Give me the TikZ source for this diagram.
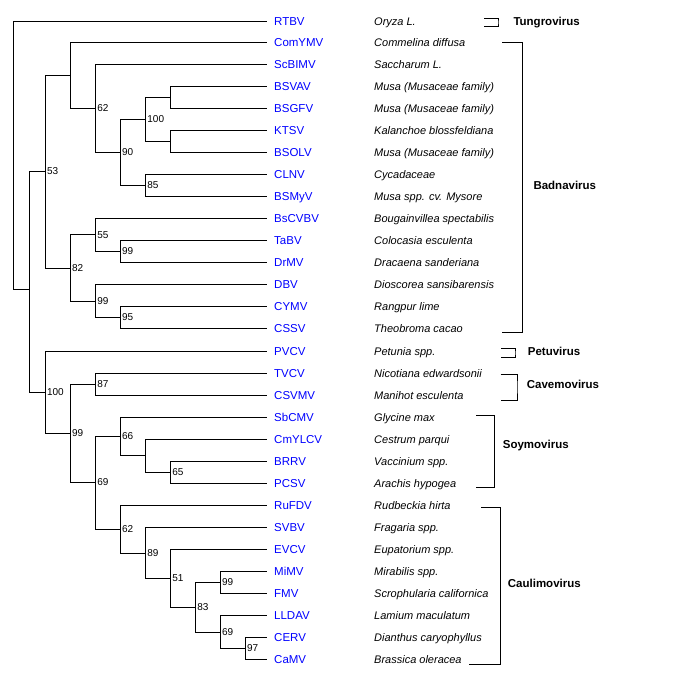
\documentclass[tikz,border=0pt]{standalone}
\usepackage{fontspec}
\setmainfont{Liberation Sans}
\begin{document}
\begin{tikzpicture}[x=1pt,y=-1pt,
  edge/.style={draw=black,line width=0.9pt},
  leaf/.style={anchor=west,inner xsep=7pt,inner ysep=0pt,text=blue,font=\fontsize{11.5}{12}\selectfont,text height=8pt,text depth=0pt},
  host/.style={anchor=west,inner sep=0pt,font=\fontsize{11}{12}\selectfont\itshape,text height=8pt,text depth=0pt},
  boot/.style={anchor=west,inner xsep=1.5pt,inner ysep=0pt,font=\fontsize{10}{11}\selectfont,text height=7pt,text depth=0pt},
  genus/.style={anchor=west,inner sep=0pt,font=\fontsize{11.5}{12}\selectfont\bfseries,text height=8pt,text depth=0pt},
  brk/.style={draw=black,line width=0.9pt}]
\useasboundingbox (0,0) rectangle (678,688);
\fill[white] (0,0) rectangle (678,688);

% leaves and hosts
\foreach \n/\y/\h in {
 RTBV/21.3/Oryza L.,
 ComYMV/42.3/Commelina diffusa,
 ScBIMV/64.3/Saccharum L.,
 BSVAV/86.3/Musa (Musaceae family),
 BSGFV/108.3/Musa (Musaceae family),
 KTSV/130.3/Kalanchoe blossfeldiana,
 BSOLV/152.3/Musa (Musaceae family),
 CLNV/174.3/Cycadaceae,
 BSMyV/196.3/Musa spp. cv. Mysore,
 BsCVBV/218.3/Bougainvillea spectabilis,
 TaBV/240.3/Colocasia esculenta,
 DrMV/262.3/Dracaena sanderiana,
 DBV/284.3/Dioscorea sansibarensis,
 CYMV/306.3/Rangpur lime,
 CSSV/328.3/Theobroma cacao,
 PVCV/351/Petunia spp.,
 TVCV/373/Nicotiana edwardsonii,
 CSVMV/395/Manihot esculenta,
 SbCMV/417.3/Glycine max,
 CmYLCV/439.3/Cestrum parqui,
 BRRV/461/Vaccinium spp.,
 PCSV/483/Arachis hypogea,
 RuFDV/505.3/Rudbeckia hirta,
 SVBV/527.3/Fragaria spp.,
 EVCV/549.3/Eupatorium spp.,
 MiMV/571.3/Mirabilis spp.,
 FMV/593.3/Scrophularia californica,
 LLDAV/615.3/Lamium maculatum,
 CERV/637.3/Dianthus caryophyllus,
 CaMV/659.3/Brassica oleracea}{
  \node[leaf] (\n) at (267,\y) {\n};
  \node[host] (h\n) at (374,\y) {\h};
}

% internal nodes
\coordinate (root) at (13.3,155);
\coordinate (nA) at (29.7,289);
\coordinate (nB) at (45.3,171.3);
\coordinate (nD) at (70.3,75.3);
\coordinate (nF) at (95.7,108.3);
\coordinate (nG) at (120.3,152.3);
\coordinate (nH) at (145.7,119.3);
\coordinate (nJ) at (170.7,97.3);
\coordinate (nK) at (170.7,141.3);
\coordinate (nI) at (145.7,185.3);
\coordinate (nE) at (70.3,268.3);
\coordinate (nL) at (95.7,234.7);
\coordinate (nN) at (120.3,251.3);
\coordinate (nM) at (95.7,301);
\coordinate (nO) at (120.3,317.3);
\coordinate (nC) at (45.3,392.3);
\coordinate (nP) at (70.3,433);
\coordinate (nQ) at (95.7,384);
\coordinate (nR) at (95.7,482.3);
\coordinate (nS) at (120.3,436.3);
\coordinate (nU) at (145.7,455.3);
\coordinate (nV) at (170.7,472);
\coordinate (nT) at (120.3,529.3);
\coordinate (nW) at (145.7,553.3);
\coordinate (nX) at (170.7,578.3);
\coordinate (nY) at (195.7,607.3);
\coordinate (nZa) at (220.3,582.3);
\coordinate (nZb) at (220.3,632);
\coordinate (nZc) at (245.3,648.3);

% edges
\foreach \p/\c in {root/nA,nA/nB,nA/nC,nB/nD,nB/nE,nF/nG,nG/nH,nG/nI,nH/nJ,nH/nK,
  nD/nF,nE/nL,nE/nM,nL/nN,nM/nO,nC/nP,nP/nQ,nP/nR,nR/nS,nR/nT,nS/nU,nU/nV,
  nT/nW,nW/nX,nX/nY,nY/nZa,nY/nZb,nZb/nZc}{
  \draw[edge] (\p) |- (\c);
}
\foreach \p/\c in {root/RTBV,nD/ComYMV,nF/ScBIMV,nJ/BSVAV,nJ/BSGFV,nK/KTSV,nK/BSOLV,
  nI/CLNV,nI/BSMyV,nL/BsCVBV,nN/TaBV,nN/DrMV,nM/DBV,nO/CYMV,nO/CSSV,nC/PVCV,
  nQ/TVCV,nQ/CSVMV,nS/SbCMV,nU/CmYLCV,nV/BRRV,nV/PCSV,nT/RuFDV,nW/SVBV,nX/EVCV,
  nZa/MiMV,nZa/FMV,nZb/LLDAV,nZc/CERV,nZc/CaMV}{
  \draw[edge] (\p) |- (\c.west);
}

% bootstrap values
\foreach \c/\v in {nB/53,nF/62,nG/90,nH/100,nI/85,nE/82,nL/55,nN/99,nM/99,nO/95,
  nC/100,nP/99,nQ/87,nR/69,nS/66,nV/65,nT/62,nW/89,nX/51,nY/83,nZa/99,nZb/69,nZc/97}{
  \node[boot] (b\c) at (\c) {\v};
}

% genus labels
\node[genus] (gTungro) at (513.3,21.7) {Tungrovirus};
\node[genus] (gBadna) at (533.3,185.7) {Badnavirus};
\node[genus] (gPetu) at (527.7,351.7) {Petuvirus};
\node[genus] (gCavemo) at (526.7,384.3) {Cavemovirus};
\node[genus] (gSoymo) at (502.7,444.3) {Soymovirus};
\node[genus] (gCaulimo) at (507.7,583.3) {Caulimovirus};

% brackets
\coordinate (tgA) at (484,18.3);  \coordinate (tgM) at (498,22.3);  \coordinate (tgB) at (484,26.3);
\coordinate (bdA) at (502,42.3);  \coordinate (bdM) at (522.7,187); \coordinate (bdB) at (502,332);
\coordinate (ptA) at (501,348.3); \coordinate (ptM) at (515,353);   \coordinate (ptB) at (501,357.3);
\coordinate (cvA) at (500.7,374); \coordinate (cvM) at (517,387);   \coordinate (cvB) at (500.7,400.3);
\coordinate (syA) at (476,415.3); \coordinate (syM) at (494.7,451); \coordinate (syB) at (476,487.3);
\coordinate (clA) at (481,507.7); \coordinate (clM) at (500.3,586); \coordinate (clB) at (469,664.3);
\foreach \g in {tg,bd,pt,cv,sy,cl}{
  \draw[brk] (\g A) -| (\g M) |- (\g B);
}
\end{tikzpicture}
\end{document}
